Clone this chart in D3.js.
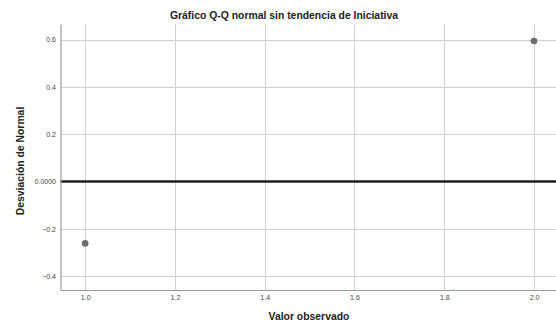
<!DOCTYPE html>
<html>
<head>
<meta charset="utf-8">
<script src="https://cdn.jsdelivr.net/npm/d3@7"></script>
<style>
  html, body { margin: 0; padding: 0; background: #fff; }
  svg { display: block; font-family: "Liberation Sans", Arial, sans-serif; }
</style>
</head>
<body>
<svg id="chart" width="556" height="324"></svg>
<script>
// Detrended normal Q-Q points: observed value vs. deviation from normal
const observed = [1.0, 2.0];
const deviation = [-0.262, 0.594];
const xTicks = [1.0, 1.2, 1.4, 1.6, 1.8, 2.0];
const yTicks = [-0.4, -0.2, 0.0, 0.2, 0.4, 0.6];

const title = "Gráfico Q-Q normal sin tendencia de Iniciativa";
const xTitle = "Valor observado";
const yTitle = "Desviación de Normal";

const svg = d3.select("#chart");
const m = { left: 60.5, right: 556, top: 24, bottom: 290 };

const x = d3.scaleLinear().domain([0.945, 2.049]).range([m.left, m.right]);
const y = d3.scaleLinear().domain([-0.459, 0.666]).range([m.bottom, m.top]);

// grid lines
svg.append("g").selectAll("line").data(xTicks).join("line")
  .attr("x1", d => Math.round(x(d)) + 0.5).attr("x2", d => Math.round(x(d)) + 0.5)
  .attr("y1", m.top).attr("y2", m.bottom)
  .attr("stroke", "#d2d2d2").attr("stroke-width", 1);
svg.append("g").selectAll("line").data(yTicks.filter(d => d !== 0)).join("line")
  .attr("x1", m.left).attr("x2", m.right)
  .attr("y1", d => Math.round(y(d)) + 0.5).attr("y2", d => Math.round(y(d)) + 0.5)
  .attr("stroke", "#d2d2d2").attr("stroke-width", 1);

// reference line at zero deviation
svg.append("line")
  .attr("x1", m.left).attr("x2", m.right)
  .attr("y1", y(0)).attr("y2", y(0))
  .attr("stroke", "#1e1e1e").attr("stroke-width", 2.6);

// axes
const xAxis = d3.axisBottom(x).tickValues(xTicks).tickFormat(d3.format(".1f")).tickSize(0).tickPadding(5);
const yAxis = d3.axisLeft(y).tickValues(yTicks)
  .tickFormat(d => d === 0 ? "0.0000" : d3.format(".1f")(d)).tickSize(0).tickPadding(4.5);

const gx = svg.append("g").attr("transform", `translate(0,${m.bottom})`).call(xAxis);
const gy = svg.append("g").attr("transform", `translate(${m.left},0)`).call(yAxis);
[gx, gy].forEach(g => {
  g.select(".domain").attr("stroke", "#9a9a9a").attr("stroke-width", 1.2);
  g.selectAll("text").attr("fill", "#444").attr("font-size", 7)
    .attr("font-family", "Liberation Sans, Arial, sans-serif");
});

// points
svg.append("g").selectAll("circle").data(observed).join("circle")
  .attr("cx", d => x(d)).attr("cy", (d, i) => y(deviation[i]))
  .attr("r", 3.3).attr("fill", "#6e6e6e");

// titles
svg.append("text").attr("x", 284).attr("y", 19).attr("text-anchor", "middle")
  .attr("font-size", 10.4).attr("font-weight", "bold").attr("fill", "#222").text(title);
svg.append("text").attr("x", 309).attr("y", 319.5).attr("text-anchor", "middle")
  .attr("font-size", 10.4).attr("font-weight", "bold").attr("fill", "#222").text(xTitle);
svg.append("text").attr("transform", "translate(24,161) rotate(-90)").attr("text-anchor", "middle")
  .attr("font-size", 10.4).attr("font-weight", "bold").attr("fill", "#222").text(yTitle);
</script>
</body>
</html>
